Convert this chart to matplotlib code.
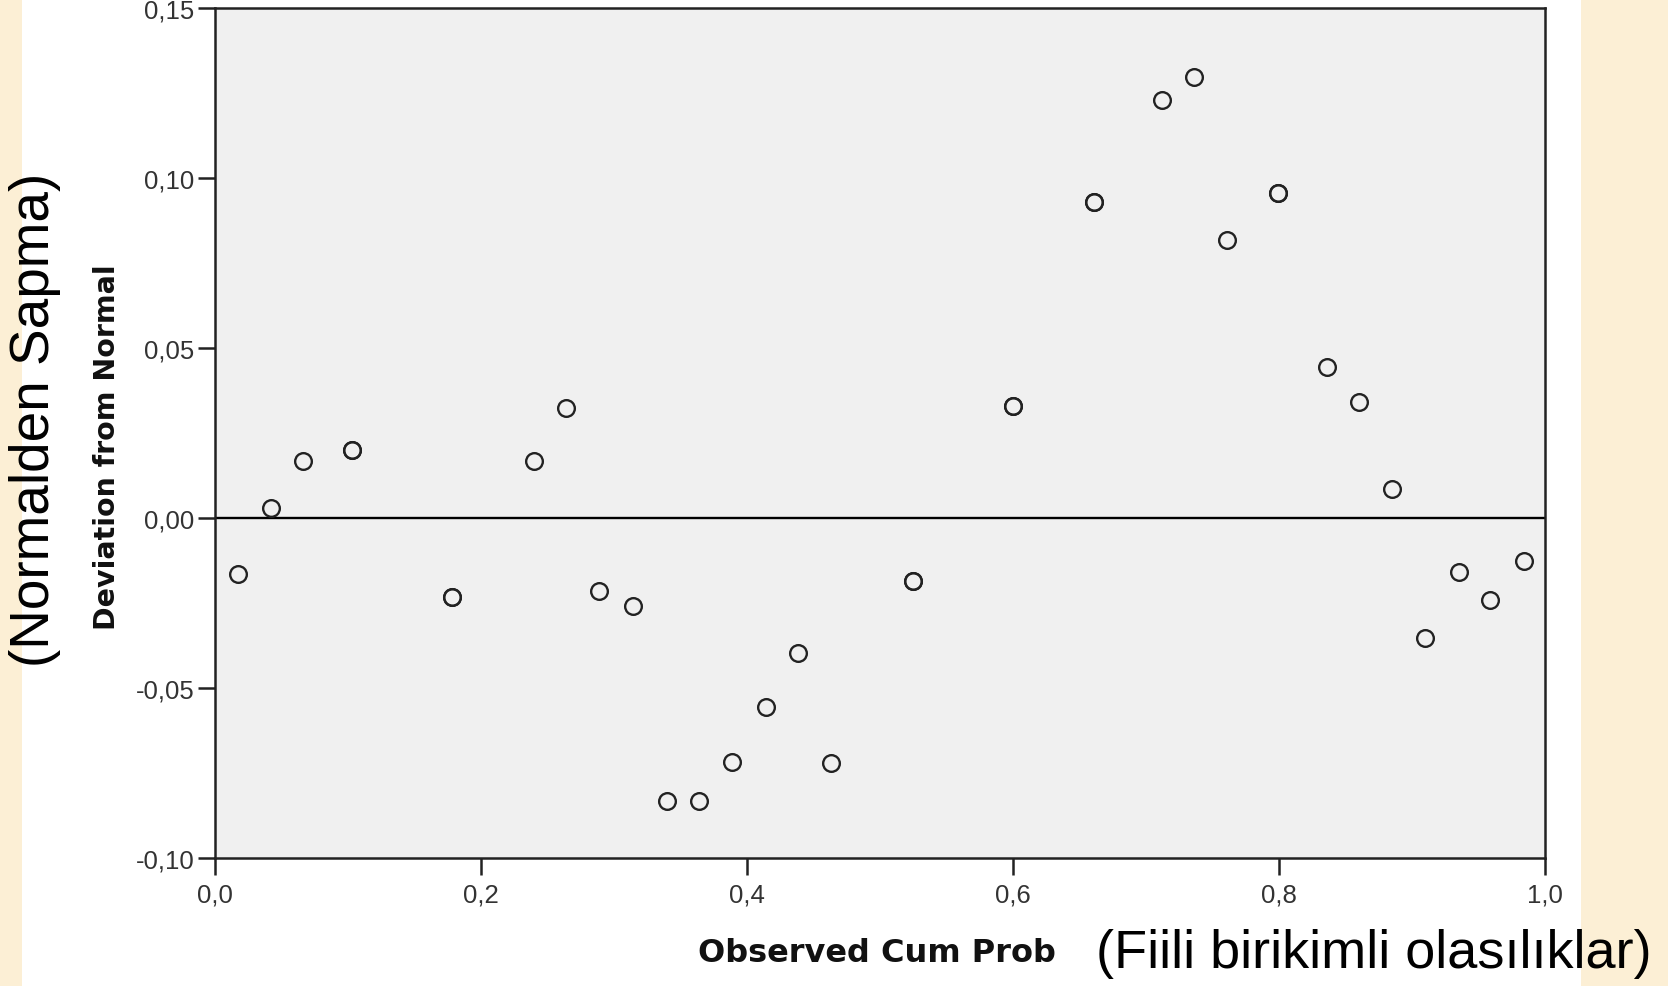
import matplotlib
matplotlib.use('Agg')
import matplotlib.pyplot as plt
from matplotlib.patches import Rectangle
from matplotlib.ticker import FuncFormatter

# Detrended normal P-P plot: observed cumulative probability vs deviation from normal
# (tied cases appear twice, so their circles print darker)
cum_prob = [0.017, 0.042, 0.066, 0.103, 0.103, 0.178, 0.178, 0.240, 0.264,
            0.289, 0.314, 0.340, 0.364, 0.389, 0.414, 0.438, 0.463,
            0.525, 0.525, 0.600, 0.600, 0.661, 0.661, 0.712, 0.736,
            0.761, 0.799, 0.799, 0.836, 0.860, 0.885, 0.910, 0.935,
            0.959, 0.984]
deviation = [-0.0165, 0.0029, 0.0167, 0.0199, 0.0199, -0.0233, -0.0233, 0.0167, 0.0324,
             -0.0215, -0.0258, -0.0831, -0.0831, -0.0718, -0.0556, -0.0396, -0.0721,
             -0.0184, -0.0184, 0.0330, 0.0330, 0.0930, 0.0930, 0.1228, 0.1297,
             0.0818, 0.0956, 0.0956, 0.0443, 0.0340, 0.0086, -0.0352, -0.0158,
             -0.0240, -0.0127]

x_ticks = [0.0, 0.2, 0.4, 0.6, 0.8, 1.0]
y_ticks = [-0.10, -0.05, 0.00, 0.05, 0.10, 0.15]

plt.rcParams['font.family'] = ['Liberation Sans', 'DejaVu Sans']

fig = plt.figure(figsize=(16.68, 9.87), dpi=100, facecolor='#FCEFD5')
# white slide panel between the parchment strips
fig.add_artist(Rectangle((22 / 1668, 0), (1581 - 22) / 1668, 1,
                         transform=fig.transFigure, facecolor='white',
                         edgecolor='none', zorder=-10))

ax = fig.add_axes([215 / 1668, 1 - 859 / 987, 1330 / 1668, 850 / 987])
ax.set_facecolor('#F0F0F0')
ax.set_xlim(0, 1)
ax.set_ylim(-0.10, 0.15)

ax.axhline(0, color='black', lw=1.7, zorder=2)
ax.plot(cum_prob, deviation, linestyle='none', marker='o', markersize=12,
        markerfacecolor='none', markeredgecolor='#222222', markeredgewidth=1.7,
        zorder=3)

ax.set_xticks(x_ticks)
ax.set_yticks(y_ticks)
ax.xaxis.set_major_formatter(FuncFormatter(lambda v, p: f'{v:.1f}'.replace('.', ',')))
ax.yaxis.set_major_formatter(FuncFormatter(lambda v, p: f'{v:.2f}'.replace('.', ',')))
ax.tick_params(direction='out', length=12, width=1.8, color='#222222',
               labelsize=18.5, labelcolor='#333333')
ax.tick_params(axis='y', pad=3)
ax.tick_params(axis='x', pad=6)
for s in ax.spines.values():
    s.set_linewidth(1.8)
    s.set_color('#222222')

ax.set_ylabel('Deviation from Normal', fontsize=20.5, fontweight='bold',
              family=['DejaVu Sans'], color='#111111')
ax.yaxis.set_label_coords(-0.071, 0.485)
fig.text(877 / 1668, 1 - 954 / 987, 'Observed Cum Prob', fontsize=23,
         fontweight='bold', family=['DejaVu Sans'], color='#111111',
         ha='center', va='center')

# Turkish captions
fig.text(35 / 1668, 1 - 420 / 987, '(Normalden Sapma)', fontsize=39.5,
         rotation=90, ha='center', va='center', color='black')
fig.text(1374 / 1668, 1 - 954 / 987, '(Fiili birikimli olasılıklar)', fontsize=39,
         ha='center', va='center', color='black')

fig.savefig('out.png', dpi=100, facecolor=fig.get_facecolor())
